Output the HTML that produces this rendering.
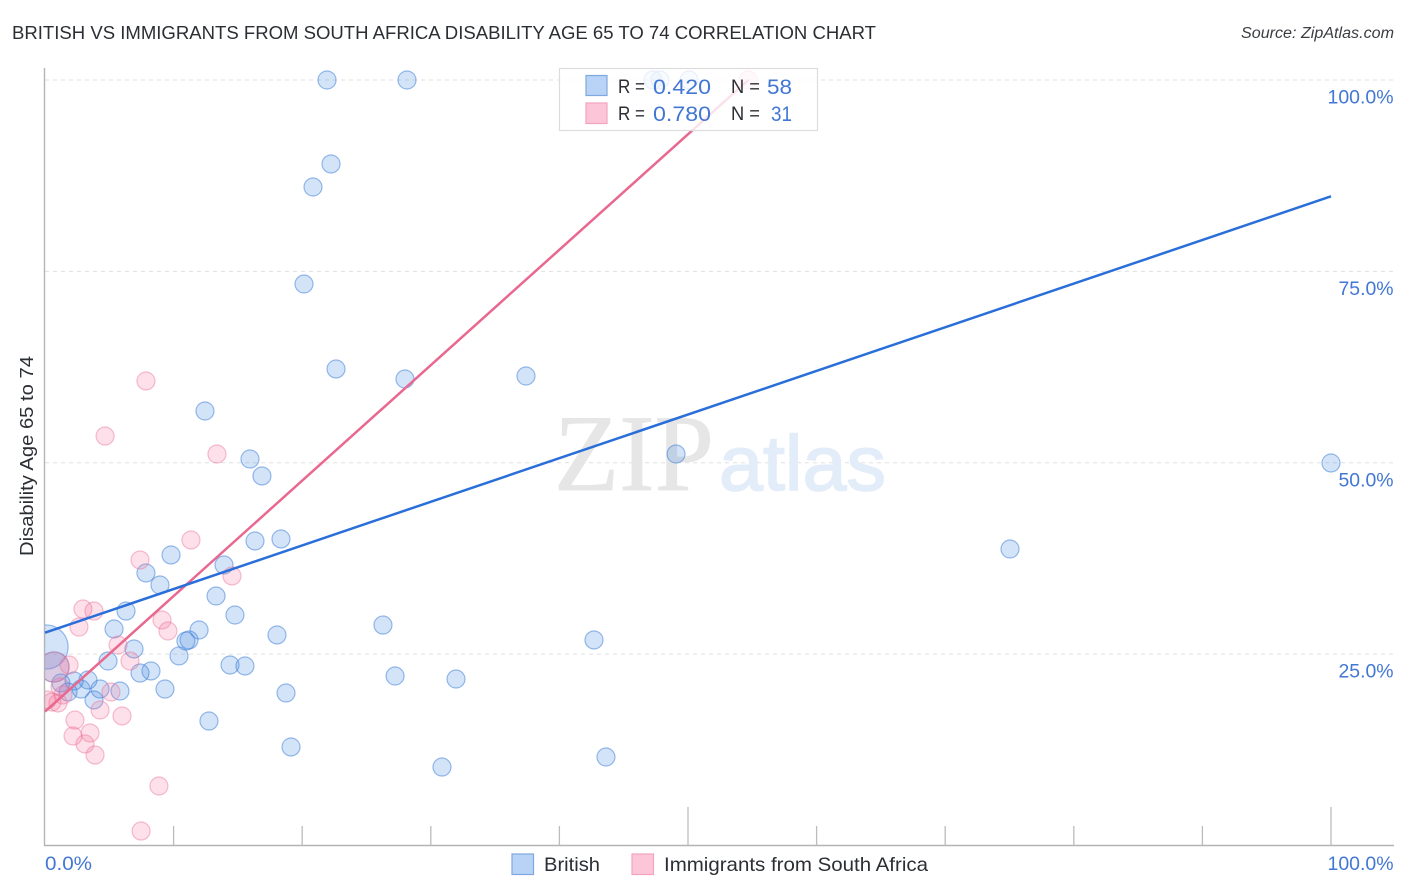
<!DOCTYPE html>
<html lang="en">
<head>
<meta charset="utf-8">
<title>British vs Immigrants from South Africa Disability Age 65 to 74 Correlation Chart</title>
<style>
html,body{margin:0;padding:0;background:#fff;width:1406px;height:892px;overflow:hidden}
svg{display:block;font-family:"Liberation Sans",sans-serif}
</style>
</head>
<body>
<svg id="chart" width="1406" height="892" viewBox="0 0 1406 892" xmlns="http://www.w3.org/2000/svg">
  <defs>
    <clipPath id="plot-clip"><rect x="45" y="60" width="1350" height="786"/></clipPath>
  </defs>
  <text x="12" y="39" font-size="18.5" fill="#2b2e33" textLength="864" lengthAdjust="spacingAndGlyphs">BRITISH VS IMMIGRANTS FROM SOUTH AFRICA DISABILITY AGE 65 TO 74 CORRELATION CHART</text>
  <text x="1394" y="38" font-size="15.5" font-style="italic" fill="#3a3d42" text-anchor="end" textLength="153" lengthAdjust="spacingAndGlyphs">Source: ZipAtlas.com</text>
  <text transform="translate(33,556) rotate(-90)" font-size="18.5" fill="#2b2e33" textLength="200" lengthAdjust="spacingAndGlyphs">Disability Age 65 to 74</text>
  <g id="grid"></g>
  <g>
    <text x="554" y="490" font-family="'Liberation Serif',serif" font-size="109" fill="#e6e6e6" stroke="#e6e6e6" stroke-width="0.8" textLength="160" lengthAdjust="spacingAndGlyphs">ZIP</text>
    <text x="719" y="490" font-size="78" fill="#e3ecf9" stroke="#e3ecf9" stroke-width="1.6" textLength="167" lengthAdjust="spacingAndGlyphs">atlas</text>
  </g>
  <g id="axes"></g>
  <g id="british-points" clip-path="url(#plot-clip)"></g>
  <g id="immigrant-points" clip-path="url(#plot-clip)"></g>
  <g id="trend-lines"></g>
  <g>
    <rect x="559.5" y="68.5" width="258" height="62" fill="#fff" fill-opacity="0.8" stroke="#dcdcdc" stroke-width="1.2"/>
    <rect x="586" y="75.5" width="21" height="20" fill="#b9d3f6" stroke="#7ea8e0" stroke-width="1.2"/>
    <rect x="586" y="103" width="21" height="20.5" fill="#fdc6d8" stroke="#f3a3bd" stroke-width="1.2"/>
    <text x="618" y="93" font-size="19" fill="#2b2e33" textLength="27" lengthAdjust="spacingAndGlyphs">R =</text>
    <text x="653" y="94" font-size="21" fill="#4277d4" textLength="58" lengthAdjust="spacingAndGlyphs">0.420</text>
    <text x="731" y="93" font-size="19" fill="#2b2e33" textLength="29" lengthAdjust="spacingAndGlyphs">N =</text>
    <text x="767" y="94" font-size="21" fill="#4277d4" textLength="25" lengthAdjust="spacingAndGlyphs">58</text>
    <text x="618" y="120" font-size="19" fill="#2b2e33" textLength="27" lengthAdjust="spacingAndGlyphs">R =</text>
    <text x="653" y="121" font-size="21" fill="#4277d4" textLength="58" lengthAdjust="spacingAndGlyphs">0.780</text>
    <text x="731" y="120" font-size="19" fill="#2b2e33" textLength="29" lengthAdjust="spacingAndGlyphs">N =</text>
    <text x="771" y="121" font-size="21" fill="#4277d4" textLength="21" lengthAdjust="spacingAndGlyphs">31</text>
  </g>
  <g>
    <rect x="512" y="854" width="21.5" height="20.5" fill="#b9d3f6" stroke="#7ea8e0" stroke-width="1.2"/>
    <text x="544" y="871" font-size="19.5" fill="#2b2e33" textLength="56" lengthAdjust="spacingAndGlyphs">British</text>
    <rect x="632" y="854" width="21.5" height="20.5" fill="#fdc6d8" stroke="#f3a3bd" stroke-width="1.2"/>
    <text x="664" y="871" font-size="19.5" fill="#2b2e33" textLength="264" lengthAdjust="spacingAndGlyphs">Immigrants from South Africa</text>
  </g>
</svg>
<script>
var yTickValues = [25, 50, 75, 100];
var yTickLabels = ['25.0%', '50.0%', '75.0%', '100.0%'];
var xTickValues = [10, 20, 30, 40, 50, 60, 70, 80, 90, 100];
var xMajorTicks = [50, 100];
var xEndValues = [0, 100];
var xEndLabels = ['0.0%', '100.0%'];

var britishX = [21.93,28.15,47.28,47.82,50.08,22.24,20.84,20.14,22.63,27.99,37.40,12.44,15.94,16.87,49.07,100,75.04,16.33,18.35,9.80,13.92,7.85,8.94,13.30,14.77,6.30,5.37,11.98,11.20,10.96,6.92,10.42,4.90,18.04,26.28,42.69,14.39,15.55,8.24,7.39,9.33,27.22,31.96,18.74,5.83,4.28,3.81,2.80,3.34,2.26,1.24,1.79,12.75,19.13,30.87,43.62,0.08,0.70];
var britishY = [100,100,100,100,100,89.03,86.02,73.35,62.25,60.94,61.33,56.76,50.49,48.27,51.14,49.97,38.73,39.78,40.04,37.95,36.64,35.60,34.03,32.59,30.11,30.63,28.28,28.15,26.85,26.71,25.67,24.76,24.10,27.50,28.80,26.85,23.58,23.45,22.80,22.53,20.44,22.14,21.75,19.92,20.18,20.44,19.01,20.44,21.62,21.49,21.23,20.05,16.26,12.87,10.25,11.56,25.93,23.32];
var britishWeight = [1,1,1,1,1,1,1,1,1,1,1,1,1,1,1,1,1,1,1,1,1,1,1,1,1,1,1,1,1,1,1,1,1,1,1,1,1,1,1,1,1,1,1,1,1,1,1,1,1,1,1,1,1,1,1,1,6,2.8];

var immigrantX = [7.85,4.67,13.37,11.35,7.39,14.54,2.95,3.81,2.64,9.10,9.56,5.68,6.61,1.87,54.67,5.13,4.28,5.99,2.33,2.18,3.50,3.11,3.89,8.86,7.47,1.01,0.54,1.40,1.17,0.70,0.16];
var immigrantY = [60.68,53.49,51.14,39.91,37.30,35.21,30.89,30.63,28.54,29.46,28.02,26.19,24.10,23.58,100,20.05,17.70,16.92,16.39,14.30,14.70,13.26,11.82,7.77,1.89,18.62,18.75,19.66,20.71,23.32,19.01];
var immigrantWeight = [1,1,1,1,1,1,1,1,1,1,1,1,1,1,1,1,1,1,1,1,1,1,1,1,1,1,1,1,1,2.8,1];

var britishTrendX = [0, 100];
var britishTrendY = [27.8, 84.8];
var immigrantTrendX = [0, 54.7];
var immigrantTrendY = [17.5, 100];

var NS = 'http://www.w3.org/2000/svg';
function xScale(v) { return 45 + v * 12.86; }
function yScale(v) { return 845.5 - v * 7.655; }
function rScale(w) { return 9 * Math.sqrt(w); }
function make(tag, attrs, parent) {
  var el = document.createElementNS(NS, tag);
  for (var k in attrs) { el.setAttribute(k, attrs[k]); }
  parent.appendChild(el);
  return el;
}

var grid = document.getElementById('grid');
var axes = document.getElementById('axes');

yTickValues.forEach(function (v, i) {
  var line = make('line', {x1: 45, x2: 1394, y1: yScale(v), y2: yScale(v), stroke: '#e0e0e0', 'stroke-width': 1, 'stroke-dasharray': '4 4'}, grid);
  
  
  var label = make('text', {x: 1393.5, y: yScale(v) + 23.5, 'font-size': 19, fill: '#4277d4', 'text-anchor': 'end', textLength: yTickLabels[i].length === 6 ? 66 : 55, lengthAdjust: 'spacingAndGlyphs'}, axes);
  label.textContent = yTickLabels[i];
  
  
});

var yAxis = make('line', {x1: 44.5, x2: 44.5, y1: 68, y2: 846, stroke: '#b4b4b4', 'stroke-width': 1.4}, axes);


var xAxis = make('line', {x1: 44, x2: 1394, y1: 845.5, y2: 845.5, stroke: '#b4b4b4', 'stroke-width': 1.4}, axes);



xTickValues.forEach(function (v) {
  var top = xMajorTicks.indexOf(v) >= 0 ? 807 : 826;
  var tick = make('line', {x1: xScale(v), x2: xScale(v), y1: top, y2: 845.5, stroke: '#bcbcbc', 'stroke-width': 1.3}, axes);
  
  
});

xEndValues.forEach(function (v, i) {
  var isEnd = v === 100;
  var label = make('text', {x: isEnd ? xScale(v) + 62.5 : xScale(v), y: 870, 'font-size': 19, fill: '#4277d4', 'text-anchor': isEnd ? 'end' : 'start', textLength: isEnd ? 66 : 47, lengthAdjust: 'spacingAndGlyphs'}, axes);
  label.textContent = xEndLabels[i];
  
  
});

var britishGroup = document.getElementById('british-points');
britishX.forEach(function (v, i) {
  var c = make('circle', {cx: xScale(v), cy: yScale(britishY[i]), r: rScale(britishWeight[i]), fill: '#4a90e2', 'fill-opacity': 0.24, stroke: '#3579d6', 'stroke-opacity': 0.5, 'stroke-width': 1.2}, britishGroup);
  
  
});

var immigrantGroup = document.getElementById('immigrant-points');
immigrantX.forEach(function (v, i) {
  var c = make('circle', {cx: xScale(v), cy: yScale(immigrantY[i]), r: rScale(immigrantWeight[i]), fill: '#f4749c', 'fill-opacity': 0.22, stroke: '#e9729a', 'stroke-opacity': 0.45, 'stroke-width': 1.2}, immigrantGroup);
  
  
});

var trends = document.getElementById('trend-lines');
var pinkLine = make('line', {x1: xScale(immigrantTrendX[0]), y1: yScale(immigrantTrendY[0]), x2: xScale(immigrantTrendX[1]), y2: yScale(immigrantTrendY[1]), stroke: '#e8688f', 'stroke-width': 2.5}, trends);


var blueLine = make('line', {x1: xScale(britishTrendX[0]), y1: yScale(britishTrendY[0]), x2: xScale(britishTrendX[1]), y2: yScale(britishTrendY[1]), stroke: '#2a6fd9', 'stroke-width': 2.5}, trends);


</script>
</body>
</html>
